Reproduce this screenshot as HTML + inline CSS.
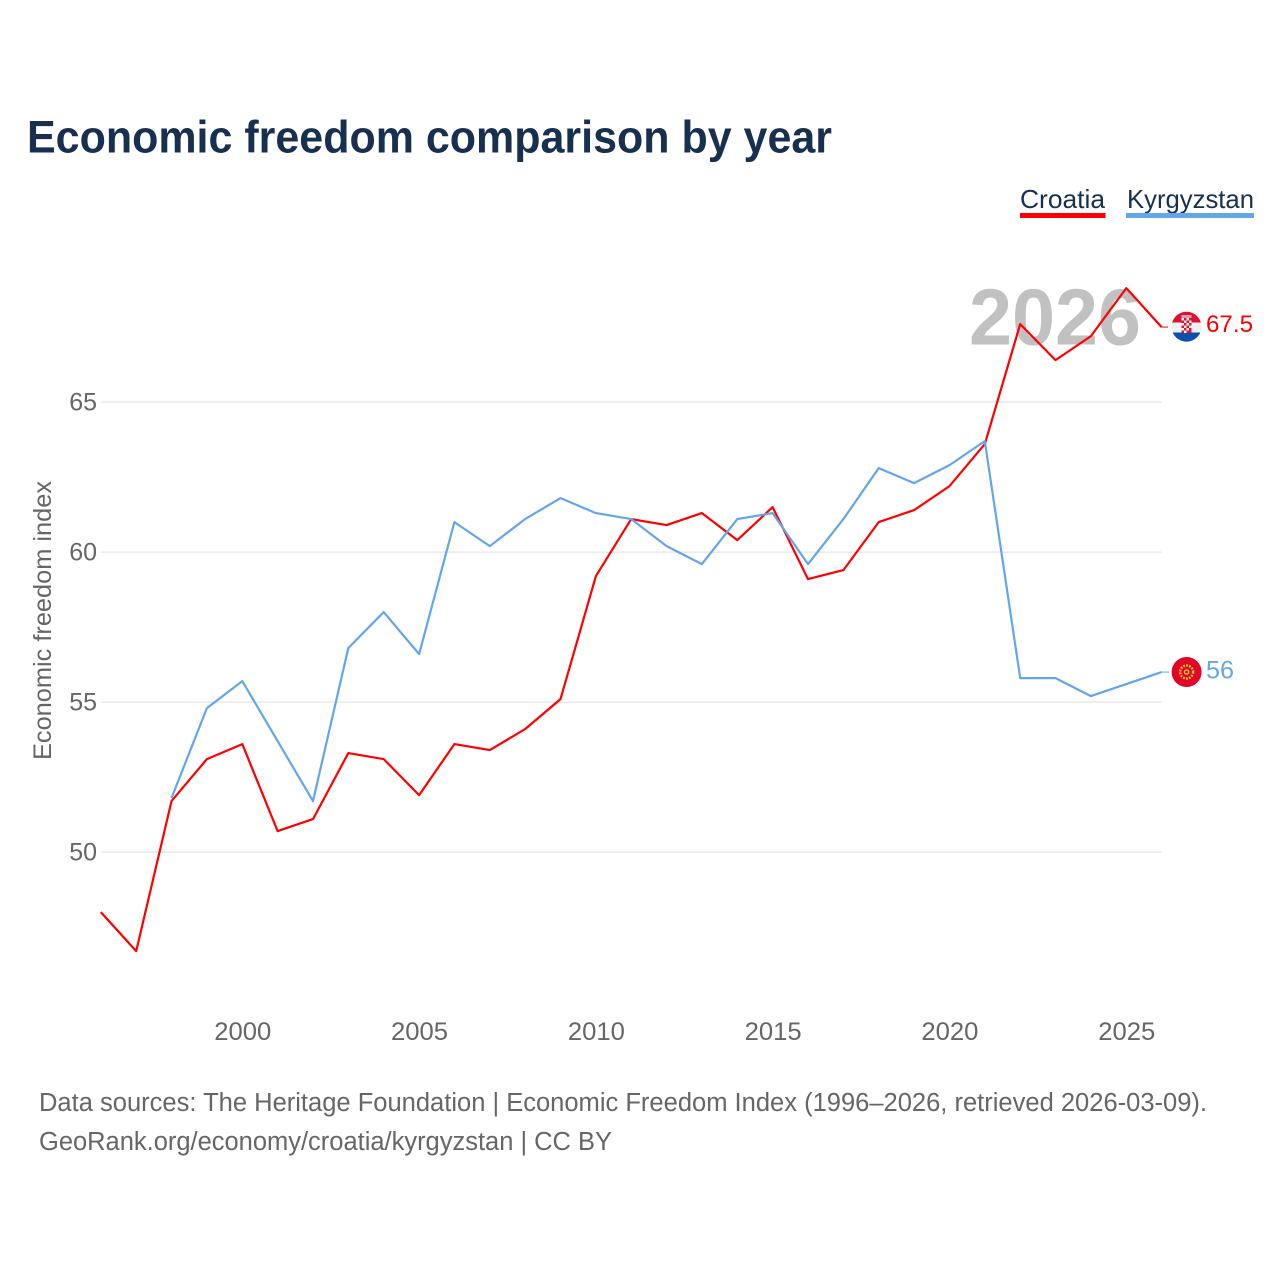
<!DOCTYPE html>
<html lang="en">
<head>
<meta charset="utf-8">
<title>Economic freedom comparison by year</title>
<style>
html,body{margin:0;padding:0;background:#fff}
svg{display:block;font-family:"Liberation Sans",sans-serif}
</style>
</head>
<body>
<svg id="chart" xmlns="http://www.w3.org/2000/svg" width="1280" height="1280" viewBox="0 0 1280 1280">
  <defs>
    <clipPath id="flag-clip-hr"><circle cx="1186.5" cy="326.7" r="15"/></clipPath>
    <clipPath id="flag-clip-kg"><circle cx="1186.6" cy="672" r="15"/></clipPath>
  </defs>
  <rect x="0" y="0" width="1280" height="1280" fill="#fff"/>
  <text x="27" y="152.5" font-size="45" font-weight="700" fill="#18304f" textLength="805" lengthAdjust="spacingAndGlyphs">Economic freedom comparison by year</text>

  <g>
    <g>
      <text x="1020" y="208" font-size="26" fill="#18304f" textLength="85" lengthAdjust="spacingAndGlyphs">Croatia</text>
      <rect x="1020" y="213" width="85.5" height="5" fill="#ff0000"/>
    </g>
    <g>
      <text x="1127" y="208" font-size="26" fill="#18304f" textLength="127" lengthAdjust="spacingAndGlyphs">Kyrgyzstan</text>
      <rect x="1126" y="213" width="128" height="5" fill="#62a6ee"/>
    </g>
  </g>

  <text x="969" y="344.5" font-size="80" font-weight="700" fill="#c1c1c1" textLength="172" lengthAdjust="spacingAndGlyphs">2026</text>
  <g id="grid"></g>
  <g id="y-ticks"></g>
  <g id="x-ticks"></g>
  <text transform="translate(51,760) rotate(-90)" x="0" y="0" font-size="25" fill="#666" textLength="279" lengthAdjust="spacingAndGlyphs">Economic freedom index</text>
  <g id="series"></g>

  <g>
    <g clip-path="url(#flag-clip-hr)">
      <rect x="1171" y="311" width="31" height="11.5" fill="#e2102f"/>
      <rect x="1171" y="322.5" width="31" height="10" fill="#f0f0f0"/>
      <rect x="1171" y="332.5" width="31" height="10" fill="#0a50ae"/>
      <rect x="1181.5" y="318" width="10" height="15" fill="#e2102f"/>
      <path d="M1181.5 318h2.5v2.5h-2.5zM1186.5 318h2.5v2.5h-2.5zM1184 320.5h2.5v2.5h-2.5zM1189 320.5h2.5v2.5h-2.5zM1181.5 323h2.5v2.5h-2.5zM1186.5 323h2.5v2.5h-2.5zM1184 325.5h2.5v2.5h-2.5zM1189 325.5h2.5v2.5h-2.5zM1181.5 328h2.5v2.5h-2.5zM1186.5 328h2.5v2.5h-2.5zM1184 330.5h2.5v2.5h-2.5z" fill="#f4f4f4"/>
      <rect x="1181.5" y="315" width="10" height="3" fill="#c8a0b8"/>
    </g>
    <text x="1206" y="332" font-size="24" fill="#ff0000" textLength="47" lengthAdjust="spacingAndGlyphs">67.5</text>
  </g>
  <g>
    <g clip-path="url(#flag-clip-kg)">
      <rect x="1171" y="656" width="31" height="32" fill="#e0062a"/>
      <circle cx="1186.6" cy="672" r="6.5" fill="none" stroke="#f7c52b" stroke-width="2.4" stroke-dasharray="1.8 1.2"/>
      <circle cx="1186.6" cy="672" r="2.8" fill="#f7c52b"/>
      <circle cx="1186.6" cy="672" r="1.4" fill="#e0062a"/>
    </g>
    <text x="1206" y="678.5" font-size="25" fill="#62a6ee" textLength="28" lengthAdjust="spacingAndGlyphs">56</text>
  </g>

  <text x="39" y="1111" font-size="25.5" fill="#666" textLength="1168" lengthAdjust="spacingAndGlyphs">Data sources: The Heritage Foundation | Economic Freedom Index (1996–2026, retrieved 2026-03-09).</text>
  <text x="39" y="1150" font-size="25.5" fill="#666" textLength="573" lengthAdjust="spacingAndGlyphs">GeoRank.org/economy/croatia/kyrgyzstan | CC BY</text>
</svg>
<script>
const years = [1996,1997,1998,1999,2000,2001,2002,2003,2004,2005,2006,2007,2008,2009,2010,2011,2012,2013,2014,2015,2016,2017,2018,2019,2020,2021,2022,2023,2024,2025,2026];
const croatia = [48.0,46.7,51.7,53.1,53.6,50.7,51.1,53.3,53.1,51.9,53.6,53.4,54.1,55.1,59.2,61.1,60.9,61.3,60.4,61.5,59.1,59.4,61.0,61.4,62.2,63.6,67.6,66.4,67.2,68.8,67.5];
const kyrgyzstan = [null,null,51.8,54.8,55.7,53.7,51.7,56.8,58.0,56.6,61.0,60.2,61.1,61.8,61.3,61.1,60.2,59.6,61.1,61.3,59.6,61.1,62.8,62.3,62.9,63.7,55.8,55.8,55.2,55.6,56.0];
const yTickValues = [50,55,60,65];
const xTickValues = [2000,2005,2010,2015,2020,2025];

const NS = 'http://www.w3.org/2000/svg';
function xScale(year){ return 242.25 + (year - 2000) * 35.36; }
function yScale(value){ return 552.1 - (value - 60) * 30; }

const gridGroup = document.getElementById('grid');
const yTickGroup = document.getElementById('y-ticks');
const xTickGroup = document.getElementById('x-ticks');
const seriesGroup = document.getElementById('series');

yTickValues.forEach(function(v){
  const line = document.createElementNS(NS,'line');
  
  
  line.setAttribute('x1', xScale(1996));
  line.setAttribute('x2', xScale(2026));
  line.setAttribute('y1', yScale(v));
  line.setAttribute('y2', yScale(v));
  line.setAttribute('stroke', '#e9e9e9');
  line.setAttribute('stroke-width', '1.5');
  gridGroup.appendChild(line);

  const label = document.createElementNS(NS,'text');
  
  
  label.setAttribute('x', 97);
  label.setAttribute('y', yScale(v) + 8.6);
  label.setAttribute('text-anchor', 'end');
  label.setAttribute('font-size', '25');
  label.setAttribute('fill', '#666');
  label.textContent = String(v);
  yTickGroup.appendChild(label);
});

xTickValues.forEach(function(yr){
  const label = document.createElementNS(NS,'text');
  
  
  label.setAttribute('x', xScale(yr) + 0.5);
  label.setAttribute('y', 1040);
  label.setAttribute('text-anchor', 'middle');
  label.setAttribute('font-size', '25');
  label.setAttribute('fill', '#666');
  label.setAttribute('textLength', '57');
  label.setAttribute('lengthAdjust', 'spacingAndGlyphs');
  label.textContent = String(yr);
  xTickGroup.appendChild(label);
});

function linePath(values){
  let d = '';
  values.forEach(function(v,i){
    if (v === null) return;
    d += (d ? 'L' : 'M') + xScale(years[i]).toFixed(1) + ' ' + yScale(v).toFixed(1);
  });
  return d;
}

function lastValue(values){
  for (let i = values.length - 1; i >= 0; i--) { if (values[i] !== null) return values[i]; }
  return null;
}

const croatiaConnector = document.createElementNS(NS,'line');


croatiaConnector.setAttribute('x1', xScale(2026));
croatiaConnector.setAttribute('x2', 1168);
croatiaConnector.setAttribute('y1', yScale(lastValue(croatia)));
croatiaConnector.setAttribute('y2', yScale(lastValue(croatia)));
croatiaConnector.setAttribute('stroke', '#ff0000');
croatiaConnector.setAttribute('stroke-width', '1');
seriesGroup.appendChild(croatiaConnector);

const kyrgyzstanConnector = document.createElementNS(NS,'line');


kyrgyzstanConnector.setAttribute('x1', xScale(2026));
kyrgyzstanConnector.setAttribute('x2', 1169);
kyrgyzstanConnector.setAttribute('y1', yScale(lastValue(kyrgyzstan)));
kyrgyzstanConnector.setAttribute('y2', yScale(lastValue(kyrgyzstan)));
kyrgyzstanConnector.setAttribute('stroke', '#62a6ee');
kyrgyzstanConnector.setAttribute('stroke-width', '1');
seriesGroup.appendChild(kyrgyzstanConnector);

const croatiaLine = document.createElementNS(NS,'path');


croatiaLine.setAttribute('d', linePath(croatia));
croatiaLine.setAttribute('fill', 'none');
croatiaLine.setAttribute('stroke', '#ff0000');
croatiaLine.setAttribute('stroke-width', '2.2');
croatiaLine.setAttribute('stroke-linejoin', 'round');
seriesGroup.appendChild(croatiaLine);

const kyrgyzstanLine = document.createElementNS(NS,'path');


kyrgyzstanLine.setAttribute('d', linePath(kyrgyzstan));
kyrgyzstanLine.setAttribute('fill', 'none');
kyrgyzstanLine.setAttribute('stroke', '#62a6ee');
kyrgyzstanLine.setAttribute('stroke-width', '2.2');
kyrgyzstanLine.setAttribute('stroke-linejoin', 'round');
seriesGroup.appendChild(kyrgyzstanLine);
</script>
</body>
</html>
